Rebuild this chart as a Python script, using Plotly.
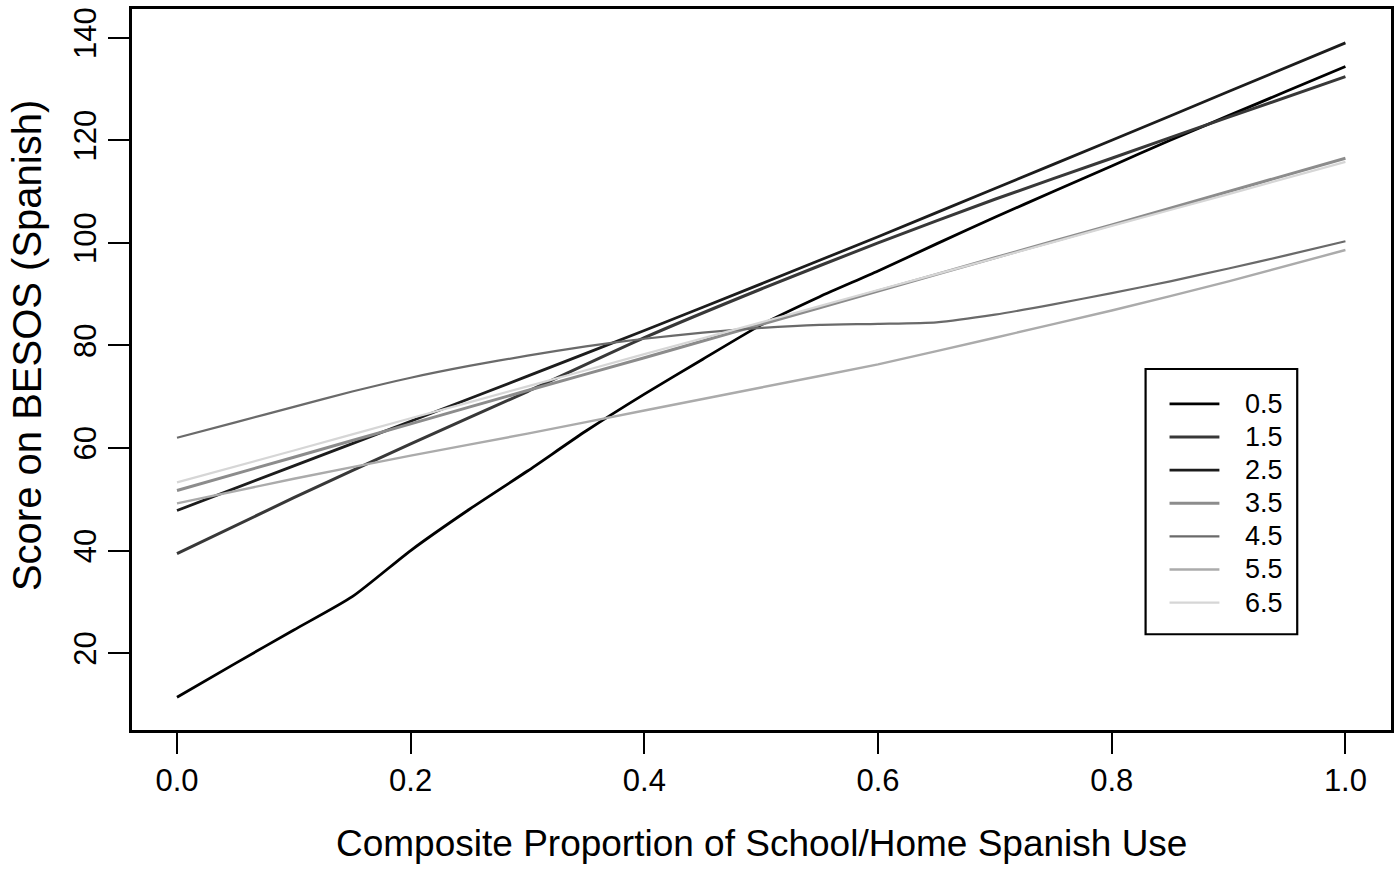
import plotly.graph_objects as go

# ---- data ----
x21 = [0.0, 0.05, 0.1, 0.15, 0.2, 0.25, 0.3, 0.35, 0.4, 0.45, 0.5,
       0.55, 0.6, 0.65, 0.7, 0.75, 0.8, 0.85, 0.9, 0.95, 1.0]
x11 = [0.0, 0.1, 0.2, 0.3, 0.4, 0.5, 0.6, 0.7, 0.8, 0.9, 1.0]

score_05 = [11.4, 18.0, 24.5, 31.0, 40.0, 48.0, 55.5, 63.3, 70.5, 77.3, 84.0,
            89.5, 94.5, 99.8, 105.0, 110.0, 115.0, 120.0, 124.8, 129.6, 134.4]
score_15 = [39.4, 50.3, 60.8, 71.0, 81.5, 91.0, 100.0, 108.5, 116.5, 124.5, 132.4]
score_25 = [47.8, 56.5, 65.2, 74.0, 82.9, 92.0, 101.2, 110.6, 120.0, 129.5, 139.0]
score_35 = [51.7, 58.2, 64.7, 71.2, 77.6, 84.1, 90.6, 97.1, 103.5, 110.0, 116.5]
score_45 = [62.0, 65.0, 68.0, 71.0, 73.7, 76.0, 78.0, 79.8, 81.3, 82.5, 83.4,
            84.0, 84.2, 84.5, 86.0, 88.0, 90.2, 92.5, 95.0, 97.6, 100.3]
score_55 = [49.2, 54.0, 58.5, 62.8, 67.3, 71.8, 76.3, 81.5, 86.8, 92.5, 98.6]
score_65 = [53.3, 59.5, 65.8, 72.0, 78.3, 84.5, 90.8, 97.0, 103.3, 109.5, 115.8]

group_labels = ["0.5", "1.5", "2.5", "3.5", "4.5", "5.5", "6.5"]
x_ticks = [0.0, 0.2, 0.4, 0.6, 0.8, 1.0]
y_ticks = [20, 40, 60, 80, 100, 120, 140]

series = [
    (x21, score_05), (x11, score_15), (x11, score_25), (x11, score_35),
    (x21, score_45), (x11, score_55), (x11, score_65),
]

# ---- styling ----
colors = ["#000000", "#383838", "#1c1c1c", "#8c8c8c", "#6a6a6a", "#ababab", "#d6d6d6"]
widths = [2.8, 3.0, 2.8, 3.0, 2.2, 2.4, 2.2]
FONT = "Liberation Sans, Arial, Helvetica, sans-serif"

W, H = 1400, 869
L, R, T, B = 132, 6, 7, 139
PW, PH = W - L - R, H - T - B


def px_x(p):
    return (p - L) / PW


def px_y(p):
    return (H - B - p) / PH


fig = go.Figure()
for (xs, ys), lab, c, w in zip(series, group_labels, colors, widths):
    fig.add_trace(go.Scatter(x=xs, y=ys, mode="lines", name=lab,
                             line=dict(color=c, width=w, shape="spline", smoothing=0.6),
                             showlegend=False, hoverinfo="skip"))

# custom legend (box, swatches, labels)
shapes = [dict(type="rect", xref="paper", yref="paper",
               x0=px_x(1148), x1=px_x(1300), y0=px_y(634), y1=px_y(368),
               line=dict(color="black", width=2.2), fillcolor="white", layer="below")]
annotations = []
first_py, step = 403, 33.2
for i, (lab, c, w) in enumerate(zip(group_labels, colors, widths)):
    py = first_py + i * step
    shapes.append(dict(type="line", xref="paper", yref="paper",
                       x0=px_x(1172), x1=px_x(1222), y0=px_y(py), y1=px_y(py),
                       line=dict(color=c, width=w)))
    annotations.append(dict(text=lab, xref="paper", yref="paper",
                            x=px_x(1246), y=px_y(py), xanchor="left", yanchor="middle",
                            showarrow=False, font=dict(family=FONT, size=27, color="black")))

annotations.append(dict(text="Composite Proportion of School/Home Spanish Use",
                        xref="paper", yref="paper", x=0.5, y=0, xanchor="center",
                        yanchor="middle", yshift=-(843 - (H - B)), showarrow=False,
                        font=dict(family=FONT, size=37, color="black")))
annotations.append(dict(text="Score on BESOS (Spanish)", textangle=-90,
                        xref="paper", yref="paper", x=0, y=px_y(345), xanchor="center",
                        yanchor="middle", xshift=27 - L, showarrow=False,
                        font=dict(family=FONT, size=40, color="black")))

axis_common = dict(showgrid=False, zeroline=False, showline=True, mirror=True,
                   linecolor="black", linewidth=2.5, ticks="outside", ticklen=21,
                   tickwidth=2.2, tickcolor="black",
                   tickfont=dict(family=FONT, size=31, color="black"))

fig.update_layout(
    width=W, height=H,
    margin=dict(l=L, r=R, t=T, b=B),
    paper_bgcolor="white", plot_bgcolor="white",
    xaxis=dict(range=[-0.0385, 1.039], tickvals=x_ticks, tickformat=".1f", **axis_common),
    yaxis=dict(range=[5.0, 145.6], tickvals=y_ticks, tickangle=-90, **axis_common),
    shapes=shapes, annotations=annotations,
    showlegend=False,
)

fig.write_html("out.html", config={"displayModeBar": False},
               post_script="document.body.style.margin='0';document.body.style.overflow='hidden';")
